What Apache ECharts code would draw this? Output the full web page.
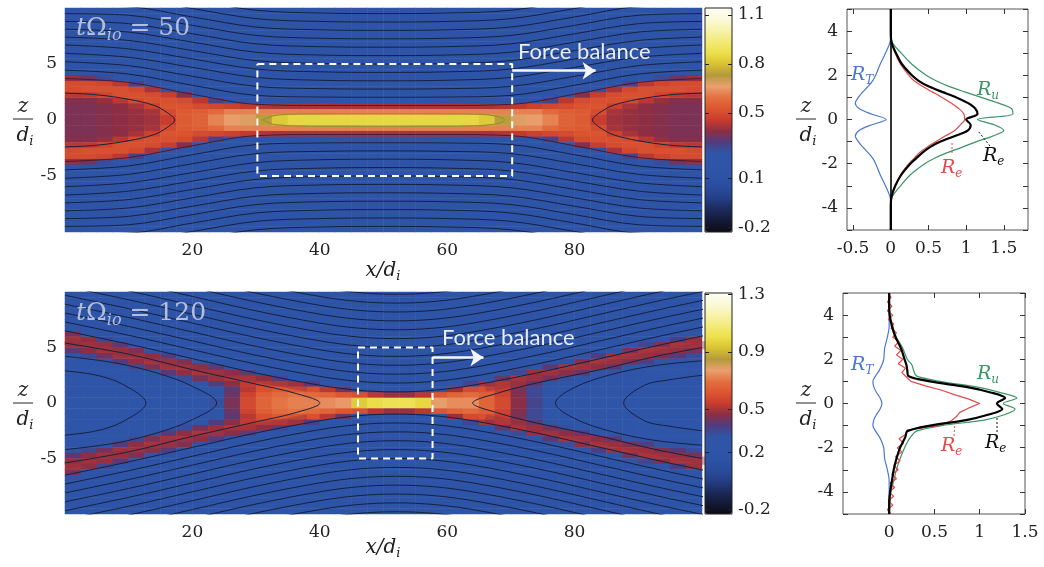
<!DOCTYPE html>
<html>
<head>
<meta charset="utf-8">
<script src="https://cdn.jsdelivr.net/npm/echarts@6/dist/echarts.min.js"></script>
<style>
  html, body { margin: 0; padding: 0; background: #fff; }
  #chart { width: 1044px; height: 567px; }
</style>
</head>
<body>
<div id="chart"></div>
<script>
// ---------- values ----------

// heatmap cell centres (x in d_i, z in d_i, upper half only; lower half is the mirror)
const cellX = [1.25, 3.75, 6.25, 8.75, 11.25, 13.75, 16.25, 18.75, 21.25, 23.75,
  26.25, 28.75, 31.25, 33.75, 36.25, 38.75, 41.25, 43.75, 46.25, 48.75,
  51.25, 53.75, 56.25, 58.75, 61.25, 63.75, 66.25, 68.75, 71.25, 73.75,
  76.25, 78.75, 81.25, 83.75, 86.25, 88.75, 91.25, 93.75, 96.25, 98.75];
const cellZ = [0.25, 0.75, 1.25, 1.75, 2.25, 2.75, 3.25, 3.75, 4.25, 4.75,
  5.25, 5.75, 6.25, 6.75, 7.25, 7.75, 8.25, 8.75, 9.25, 9.75];

// t = 50: vertical profiles (z = 0.25, 0.75, ...) for x < 50, mirrored about x = 50
const sheet50 = [
  [0.37, 0.37, 0.37, 0.38, 0.44, 0.50, 0.50, 0.40],
  [0.37, 0.37, 0.37, 0.38, 0.45, 0.51, 0.50, 0.36],
  [0.38, 0.38, 0.38, 0.40, 0.48, 0.51, 0.48, 0.28],
  [0.39, 0.39, 0.39, 0.44, 0.51, 0.51, 0.44, 0.20],
  [0.40, 0.40, 0.42, 0.50, 0.51, 0.49, 0.30],
  [0.41, 0.42, 0.47, 0.51, 0.50, 0.42, 0.18],
  [0.46, 0.50, 0.52, 0.51, 0.46, 0.26],
  [0.54, 0.54, 0.52, 0.50, 0.38, 0.17],
  [0.56, 0.55, 0.50, 0.44, 0.20],
  [0.62, 0.58, 0.49, 0.30],
  [0.66, 0.62, 0.47, 0.18],
  [0.68, 0.62, 0.45],
  [0.74, 0.62, 0.43],
  [0.82, 0.62, 0.42],
  [0.85, 0.62, 0.42],
  [0.85, 0.62, 0.42],
  [0.85, 0.62, 0.42],
  [0.85, 0.62, 0.42],
  [0.85, 0.62, 0.42],
  [0.85, 0.62, 0.42]
];
const background50 = 0.15;

// t = 120: vertical profiles for every x column
const sheet120 = [
  [0.22, 0.22, 0.22, 0.22, 0.22, 0.22, 0.22, 0.24, 0.30, 0.40, 0.48, 0.50, 0.44],
  [0.22, 0.22, 0.22, 0.22, 0.22, 0.22, 0.22, 0.26, 0.35, 0.46, 0.50, 0.47, 0.30],
  [0.22, 0.22, 0.22, 0.22, 0.22, 0.22, 0.24, 0.31, 0.43, 0.50, 0.48, 0.35],
  [0.22, 0.22, 0.22, 0.22, 0.22, 0.22, 0.28, 0.39, 0.49, 0.49, 0.40, 0.24],
  [0.22, 0.22, 0.22, 0.22, 0.22, 0.24, 0.35, 0.47, 0.50, 0.44, 0.26],
  [0.22, 0.22, 0.22, 0.22, 0.22, 0.29, 0.44, 0.50, 0.47, 0.30],
  [0.22, 0.22, 0.22, 0.22, 0.26, 0.39, 0.49, 0.49, 0.38],
  [0.22, 0.22, 0.22, 0.24, 0.33, 0.47, 0.50, 0.44, 0.26],
  [0.25, 0.24, 0.24, 0.30, 0.43, 0.50, 0.47, 0.30],
  [0.32, 0.31, 0.30, 0.38, 0.48, 0.50, 0.38, 0.24],
  [0.44, 0.42, 0.40, 0.46, 0.51, 0.46, 0.28],
  [0.58, 0.56, 0.52, 0.53, 0.52, 0.37, 0.23],
  [0.66, 0.64, 0.60, 0.56, 0.47, 0.26],
  [0.70, 0.68, 0.63, 0.54, 0.36],
  [0.72, 0.70, 0.62, 0.50, 0.26],
  [0.72, 0.68, 0.60, 0.38],
  [0.74, 0.66, 0.52, 0.26],
  [0.76, 0.62, 0.42],
  [0.95, 0.60, 0.30],
  [1.00, 0.52, 0.24],
  [1.02, 0.48],
  [1.02, 0.48],
  [0.98, 0.52, 0.24],
  [0.78, 0.62, 0.30],
  [0.74, 0.66, 0.48, 0.24],
  [0.74, 0.68, 0.58, 0.36],
  [0.66, 0.64, 0.60, 0.50, 0.26],
  [0.58, 0.56, 0.54, 0.54, 0.42, 0.23],
  [0.46, 0.45, 0.44, 0.49, 0.52, 0.34],
  [0.36, 0.35, 0.34, 0.40, 0.49, 0.48, 0.26],
  [0.28, 0.27, 0.27, 0.30, 0.42, 0.50, 0.40],
  [0.23, 0.23, 0.23, 0.24, 0.32, 0.46, 0.50, 0.32],
  [0.22, 0.22, 0.22, 0.22, 0.26, 0.39, 0.50, 0.46, 0.24],
  [0.22, 0.22, 0.22, 0.22, 0.22, 0.31, 0.46, 0.50, 0.38],
  [0.22, 0.22, 0.22, 0.22, 0.22, 0.26, 0.39, 0.49, 0.49, 0.30],
  [0.22, 0.22, 0.22, 0.22, 0.22, 0.22, 0.31, 0.44, 0.50, 0.44, 0.24],
  [0.22, 0.22, 0.22, 0.22, 0.22, 0.22, 0.26, 0.37, 0.49, 0.50, 0.36],
  [0.22, 0.22, 0.22, 0.22, 0.22, 0.22, 0.23, 0.31, 0.44, 0.50, 0.46, 0.26],
  [0.22, 0.22, 0.22, 0.22, 0.22, 0.22, 0.22, 0.27, 0.39, 0.48, 0.50, 0.38],
  [0.22, 0.22, 0.22, 0.22, 0.22, 0.22, 0.22, 0.24, 0.33, 0.44, 0.50, 0.48, 0.30]
];
const background120 = 0.21;

// field lines, t = 50: z at x = 0..50 (mirrored about x = 50 and z = 0)
const fieldX50 = [0, 10, 20, 30, 40, 50];
const fieldLines50 = [
  [3.7, 3.35, 2.3, 1.4, 1.3, 1.3],
  [4.45, 4.1, 3.1, 2.2, 2.05, 2.03],
  [5.2, 4.85, 3.9, 3.0, 2.8, 2.76],
  [5.95, 5.6, 4.7, 3.8, 3.55, 3.5],
  [6.7, 6.35, 5.45, 4.55, 4.3, 4.25],
  [7.4, 7.1, 6.2, 5.3, 5.05, 5.0],
  [8.1, 7.85, 6.95, 6.05, 5.8, 5.75],
  [8.8, 8.6, 7.7, 6.8, 6.55, 6.5],
  [9.5, 9.35, 8.45, 7.55, 7.3, 7.25],
  [10.2, 10.1, 9.2, 8.3, 8.05, 8.0],
  [10.9, 10.85, 9.95, 9.05, 8.8, 8.75],
  [11.6, 11.6, 10.7, 9.8, 9.55, 9.5]
];
const island50 = [[0, 2.4], [5, 2.25], [10, 1.85], [14, 1.3], [16.2, 0.6], [17.2, 0]];
const core50 = [[31, 0], [33, 0.42], [38, 0.55], [50, 0.58], [62, 0.55], [67, 0.42], [69, 0]];

// field lines, t = 120: z at distance d from the X point (mirrored left/right and in z)
const xPoint120 = 52;
const fieldD120 = [0, 6, 12, 22, 32, 42, 52];
const fieldLines120 = [
  [1.0, 1.15, 1.6, 2.7, 4.0, 5.3, 6.5],
  [1.8, 1.95, 2.4, 3.5, 4.8, 6.1, 7.3],
  [2.6, 2.75, 3.2, 4.3, 5.6, 6.9, 8.1],
  [3.4, 3.55, 4.0, 5.1, 6.4, 7.7, 8.9],
  [4.2, 4.35, 4.8, 5.9, 7.2, 8.5, 9.7],
  [5.0, 5.15, 5.6, 6.7, 8.0, 9.3, 10.5],
  [5.8, 5.95, 6.4, 7.5, 8.8, 10.1, 11.3],
  [6.6, 6.75, 7.2, 8.3, 9.6, 10.9, 12.1],
  [7.4, 7.55, 8.0, 9.1, 10.4, 11.7, 12.9],
  [8.2, 8.35, 8.8, 9.9, 11.2, 12.5, 13.7],
  [9.0, 9.15, 9.6, 10.7, 12.0, 13.3, 14.5],
  [9.8, 9.95, 10.4, 11.5, 12.8, 14.1, 15.3]
];
// centre of the dark red separatrix band, away from the X point
const sepD120 = [14, 22, 32, 42, 52];
const separatrix120 = [1.4, 2.2, 3.3, 4.5, 5.6];
const islands120 = [
  [[0, 5.4], [10, 4.4], [20, 3.0], [30, 1.7], [36, 0.9], [40, 0]],
  [[0, 4.2], [8, 3.6], [15, 2.6], [20, 1.5], [23.8, 0]],
  [[0, 2.9], [5, 2.5], [9, 1.7], [12.7, 0]],
  [[100, 5.0], [92, 4.1], [84, 3.0], [74, 1.8], [68, 0.9], [64, 0]],
  [[100, 3.8], [93, 3.4], [86, 2.6], [80, 1.4], [77, 0]],
  [[100, 2.5], [95, 2.1], [91, 1.6], [87.7, 0]]
];

// dashed "force balance" boxes and arrows
const boxX50 = [30.2, 70.2], boxZ50 = [-5, 5];
const arrowX50 = [70.2, 83.3], arrowZ50 = 4.4;
const boxX120 = [46, 57.7], boxZ120 = [-5, 5];
const arrowX120 = [57.7, 65.7], arrowZ120 = 4.1;

// colour bars
const range50 = [-0.228, 1.143];
const ticks50 = [-0.2, 0.1, 0.5, 0.8, 1.1];
const range120 = [-0.23, 1.31];
const ticks120 = [-0.2, 0.2, 0.5, 0.9, 1.3];

// right-hand profiles
const zProfile = [-5, -4.5, -4, -3.5, -3, -2.5, -2, -1.75, -1.5, -1.25, -1, -0.75, -0.5, -0.25, 0,
  0.25, 0.5, 0.75, 1, 1.25, 1.5, 1.75, 2, 2.5, 3, 3.5, 4, 4.5, 5];
const RT50 = [0, 0, 0, -0.01, -0.07, -0.14, -0.2, -0.24, -0.3, -0.37, -0.43, -0.47, -0.42, -0.26, -0.06,
  -0.26, -0.42, -0.47, -0.43, -0.37, -0.3, -0.24, -0.2, -0.14, -0.07, -0.01, 0, 0, 0];
const RU50 = [0, 0, 0, 0.02, 0.13, 0.26, 0.45, 0.58, 0.75, 0.95, 1.14, 1.35, 1.5, 1.38, 1.15,
  1.62, 1.6, 1.42, 1.2, 0.98, 0.77, 0.6, 0.47, 0.28, 0.14, 0.02, 0, 0, 0];
const RE50 = [0, 0, 0, 0.01, 0.06, 0.14, 0.26, 0.34, 0.42, 0.52, 0.66, 0.85, 1.02, 1.06, 1.0,
  1.15, 1.12, 1.02, 0.87, 0.68, 0.5, 0.37, 0.28, 0.15, 0.07, 0.01, 0, 0, 0];
const REi50 = [0, 0, 0, 0.01, 0.06, 0.13, 0.24, 0.31, 0.38, 0.48, 0.6, 0.72, 0.85, 0.92, 0.98,
  0.97, 0.9, 0.8, 0.68, 0.55, 0.42, 0.31, 0.24, 0.13, 0.06, 0.01, 0, 0, 0];

const RT120 = [0, 0, 0, 0, -0.02, -0.05, -0.06, -0.08, -0.11, -0.15, -0.18, -0.17, -0.14, -0.1, -0.08,
  -0.1, -0.14, -0.17, -0.18, -0.15, -0.11, -0.08, -0.06, -0.05, -0.02, 0, 0, 0, 0];
const RU120 = [0, 0.01, 0.02, 0.05, 0.08, 0.12, 0.17, 0.2, 0.24, 0.3, 0.58, 1.05, 1.28, 1.39, 1.26,
  1.41, 1.22, 0.96, 0.56, 0.3, 0.27, 0.25, 0.2, 0.15, 0.08, 0.04, 0.01, 0, 0];
const RE120 = [0, 0, 0.01, 0.03, 0.05, 0.08, 0.12, 0.15, 0.18, 0.2, 0.45, 0.85, 1.1, 1.25, 1.19,
  1.28, 1.12, 0.85, 0.45, 0.21, 0.2, 0.19, 0.17, 0.13, 0.07, 0.03, 0.005, 0, 0];
const zNoisy = [-5, -4.8, -4.6, -4.4, -4.2, -4, -3.8, -3.6, -3.4, -3.2, -3, -2.8, -2.6, -2.4, -2.2, -2,
  -1.8, -1.6, -1.4, -1.2, -1, -0.8, -0.6, -0.4, -0.2, 0, 0.2, 0.4, 0.6, 0.8, 1, 1.2, 1.4, 1.6, 1.8,
  2, 2.2, 2.4, 2.6, 2.8, 3, 3.2, 3.4, 3.6, 3.8, 4, 4.2, 4.4, 4.6, 4.8, 5];
const REi120 = [0.02, -0.02, 0.04, -0.01, 0.05, 0, 0.06, 0.01, 0.08, 0.03, 0.1, 0.05, 0.12, 0.07, 0.14, 0.09,
  0.16, 0.11, 0.18, 0.2, 0.55, 0.68, 0.74, 0.78, 0.88, 1.0, 0.88, 0.72, 0.58, 0.4, 0.24, 0.19, 0.14, 0.18, 0.1,
  0.15, 0.08, 0.13, 0.06, 0.11, 0.04, 0.08, 0.02, 0.05, -0.01, 0.04, -0.02, 0.03, -0.02, 0.02, -0.01];

// ---------- styling ----------
const serif = 'DejaVu Serif';
const palette = ['#0c0c14', '#141a36', '#1c2a5c', '#243e86', '#2a4c9c', '#2d53a5', '#2e55a8', '#2f55a6',
  '#503c80', '#8c2e44', '#c83c2e', '#dc5630', '#e27040', '#eaa070', '#b49a3c', '#d8c232', '#ece04a',
  '#f2ea78', '#f7f3ac', '#faf9d8', '#fdfdf6'];
const fieldColor = '#16213f';

const zCats = cellZ.slice().reverse().map(z => -z).concat(cellZ);

function buildCells(columns, bg, mirrorX) {
  const cells = [];
  for (let i = 0; i < cellX.length; i++) {
    const col = mirrorX ? columns[i < 20 ? i : 39 - i] : columns[i];
    for (let j = 0; j < cellZ.length; j++) {
      const v = j < col.length ? col[j] : bg;
      cells.push([i, 20 + j, v]);
      cells.push([i, 19 - j, v]);
    }
  }
  return cells;
}

function line(xi, yi, pts, color, width, extra) {
  return Object.assign({
    type: 'line', xAxisIndex: xi, yAxisIndex: yi, data: pts,
    symbol: 'none', showSymbol: false, smooth: 0.35, silent: true,
    lineStyle: { color: color, width: width }, z: 3
  }, extra || {});
}

function closeLoop(upper) {
  return upper.concat(upper.slice(0, -1).reverse().map(([x, z]) => [x, -z]));
}

// a curve given at distances d from the X point, made symmetric left/right
function aroundX(d, z) {
  const left = d.map((di, i) => [xPoint120 - di, z[i]]).reverse();
  const right = d.slice(1).map((di, i) => [xPoint120 + di, z[i + 1]]);
  return left.concat(right);
}

const series = [
  { type: 'heatmap', xAxisIndex: 0, yAxisIndex: 0, data: buildCells(sheet50, background50, true),
    emphasis: { disabled: true }, silent: true, progressive: 0 },
  { type: 'heatmap', xAxisIndex: 2, yAxisIndex: 2, data: buildCells(sheet120, background120, false),
    emphasis: { disabled: true }, silent: true, progressive: 0 }
];

// t = 50 field lines
fieldLines50.forEach((L, k) => {
  const left = fieldX50.map((x, i) => [x, L[i]]);
  const upper = left.concat(left.slice(0, -1).reverse().map(([x, z]) => [100 - x, z]));
  const col = k === 0 ? '#4a1a2c' : fieldColor;
  series.push(line(1, 1, upper, col, 1));
  series.push(line(1, 1, upper.map(([x, z]) => [x, -z]), col, 1));
});
series.push(line(1, 1, closeLoop(island50), fieldColor, 1));
series.push(line(1, 1, closeLoop(island50.map(([x, z]) => [100 - x, z])), fieldColor, 1));
series.push(line(1, 1, closeLoop(core50), '#9c9030', 1.2));

// t = 120: soft separatrix band (four arms), then field lines
const sepStyle = { z: 2, lineStyle: { color: '#8e2e46', width: 8, opacity: 0.4, cap: 'butt' } };
[-1, 1].forEach(side => [1, -1].forEach(s => {
  const arm = sepD120.map((d, i) => [xPoint120 + side * d, s * separatrix120[i]]);
  series.push(line(3, 3, arm, '#8e2e46', 8, sepStyle));
}));
fieldLines120.forEach(L => {
  const upper = aroundX(fieldD120, L);
  series.push(line(3, 3, upper, fieldColor, 1));
  series.push(line(3, 3, upper.map(([x, z]) => [x, -z]), fieldColor, 1));
});
islands120.forEach(c => series.push(line(3, 3, closeLoop(c), fieldColor, 1)));

// boxes + arrows
function box(xi, yi, bx, bz, ax, az) {
  return line(xi, yi, [[bx[0], bz[1]], [bx[1], bz[1]], [bx[1], bz[0]], [bx[0], bz[0]], [bx[0], bz[1]]],
    '#ffffff', 2, {
      smooth: false, z: 5,
      lineStyle: { color: '#ffffff', width: 2, type: [7, 5] },
      markLine: {
        silent: true, symbol: ['none', 'arrow'], symbolSize: 13, animation: false,
        label: { show: false },
        lineStyle: { color: '#f4f6fb', width: 2.5, type: 'solid' },
        data: [[{ coord: [ax[0], az] }, { coord: [ax[1], az] }]]
      }
    });
}
series.push(box(1, 1, boxX50, boxZ50, arrowX50, arrowZ50));
series.push(box(3, 3, boxX120, boxZ120, arrowX120, arrowZ120));

// profiles
const zip = (vals, zs) => zs.map((z, i) => [vals[i], z]);
const cBlue = '#4a78d0', cGreen = '#3d9466', cRed = '#e24a4a';
series.push(line(6, 8, zip(RT50, zProfile), cBlue, 1.2, { smooth: 0.3 }));
series.push(line(6, 8, zip(RU50, zProfile), cGreen, 1.2, { smooth: 0.3 }));
series.push(line(6, 8, zip(REi50, zProfile), cRed, 1.2, { smooth: 0.3 }));
series.push(line(6, 8, zip(RE50, zProfile), '#000', 2.2, {
  smooth: 0.3,
  markLine: { silent: true, symbol: 'none', label: { show: false }, animation: false,
    lineStyle: { color: '#000', width: 1.6, type: 'solid' }, data: [{ xAxis: 0 }] }
}));
series.push(line(8, 10, zip(RT120, zProfile), cBlue, 1.2, { smooth: 0.3 }));
series.push(line(8, 10, zip(RU120, zProfile), cGreen, 1.2, { smooth: 0.3 }));
series.push(line(8, 10, zip(REi120, zNoisy), cRed, 1.2, { smooth: false }));
series.push(line(8, 10, zip(RE120, zProfile), '#000', 2.2, { smooth: 0.3 }));

// ---------- axes ----------
const tickFont = { fontFamily: serif, fontSize: 17, color: '#222' };
const hidden = (grid, type, data) => ({ gridIndex: grid, type: type, data: data, show: false });
function valAxis(grid, min, max, extra) {
  return Object.assign({
    gridIndex: grid, type: 'value', min: min, max: max,
    axisLine: { show: false, onZero: false }, splitLine: { show: false },
    axisTick: { show: false }, axisLabel: { show: false }
  }, extra || {});
}
const profTick = vals => ({ show: true, inside: true, length: 5, lineStyle: { color: '#333' }, customValues: vals });

const xAxis = [
  hidden(0, 'category', cellX),
  valAxis(1, 0, 100, { axisLabel: Object.assign({ show: true, margin: 10, customValues: [20, 40, 60, 80] }, tickFont) }),
  hidden(2, 'category', cellX),
  valAxis(3, 0, 100, { axisLabel: Object.assign({ show: true, margin: 10, customValues: [20, 40, 60, 80] }, tickFont) }),
  valAxis(4, 0, 1, { show: false }),
  valAxis(5, 0, 1, { show: false }),
  valAxis(6, -0.58, 1.82, { position: 'bottom', axisTick: profTick([-0.5, 0, 0.5, 1, 1.5]),
    axisLabel: Object.assign({ show: true, margin: 10, customValues: [-0.5, 0, 0.5, 1, 1.5] }, tickFont) }),
  valAxis(6, -0.58, 1.82, { position: 'top', axisTick: profTick([-0.5, 0, 0.5, 1, 1.5]) }),
  valAxis(7, -0.51, 1.5, { position: 'bottom', axisTick: profTick([0, 0.5, 1, 1.5]),
    axisLabel: Object.assign({ show: true, margin: 10, customValues: [0, 0.5, 1, 1.5] }, tickFont) }),
  valAxis(7, -0.51, 1.5, { position: 'top', axisTick: profTick([0, 0.5, 1, 1.5]) })
];

function barAxis(grid, range, ticks, pos, labels) {
  return valAxis(grid, range[0], range[1], {
    position: pos, z: 10,
    axisTick: { show: true, inside: true, length: 4, lineStyle: { color: '#222' }, customValues: ticks },
    axisLabel: labels ? Object.assign({ show: true, margin: 6, customValues: ticks }, tickFont) : { show: false }
  });
}
function profAxis(grid, pos, labels) {
  return valAxis(grid, -5, 5, {
    position: pos, interval: 1,
    axisTick: { show: true, inside: true, length: 5, lineStyle: { color: '#333' } },
    axisLabel: labels ? Object.assign({ show: true, margin: 9, customValues: [-4, -2, 0, 2, 4] }, tickFont) : { show: false }
  });
}

const yAxis = [
  hidden(0, 'category', zCats),
  valAxis(1, -10, 10, { axisLabel: Object.assign({ show: true, margin: 8, customValues: [-5, 0, 5] }, tickFont) }),
  hidden(2, 'category', zCats),
  valAxis(3, -10, 10, { axisLabel: Object.assign({ show: true, margin: 8, customValues: [-5, 0, 5] }, tickFont) }),
  barAxis(4, range50, ticks50, 'right', true),
  barAxis(4, range50, ticks50, 'left', false),
  barAxis(5, range120, ticks120, 'right', true),
  barAxis(5, range120, ticks120, 'left', false),
  profAxis(6, 'left', true),
  profAxis(6, 'right', false),
  profAxis(7, 'left', true),
  profAxis(7, 'right', false)
];

// ---------- annotations ----------
const ital = (size, color) => ({ fontFamily: serif, fontStyle: 'italic', fontSize: size, fill: color });
function mathLabel(x, y, text, size, color, align) {
  return {
    type: 'text', x: x, y: y, z: 100, silent: true,
    style: {
      text: text, align: align || 'left', verticalAlign: 'middle',
      rich: {
        i: Object.assign(ital(size, color), { lineHeight: size + 4 }),
        u: { fontFamily: serif, fontSize: size, fill: color, lineHeight: size + 4 },
        s: Object.assign(ital(Math.round(size * 0.65), color), { lineHeight: size + 4, padding: [Math.round(size * 0.6), 0, 0, 0] })
      }
    }
  };
}
function fraction(cx, cy) {
  return [
    mathLabel(cx, cy - 12, '{i|z}', 20, '#222', 'center'),
    { type: 'line', z: 100, silent: true, shape: { x1: cx - 10, y1: cy, x2: cx + 10, y2: cy }, style: { stroke: '#222', lineWidth: 1 } },
    mathLabel(cx + 2, cy + 17, '{i|d}{s|i}', 20, '#222', 'center')
  ];
}
const dash = (x1, y1, x2, y2, c) => ({ type: 'line', z: 100, silent: true,
  shape: { x1: x1, y1: y1, x2: x2, y2: y2 }, style: { stroke: c, lineWidth: 1, lineDash: [2, 2] } });
const forceText = (x, y) => ({ type: 'text', x: x, y: y, z: 100, silent: true,
  style: { text: 'Force balance', fontFamily: 'Lato', fontSize: 22, fill: '#e8ecf5', verticalAlign: 'middle' } });

const graphic = [
  mathLabel(76, 28, '{i|t}{u|Ω}{s|io}{u| = 50}', 25, '#b3bfd9'),
  mathLabel(76, 313, '{i|t}{u|Ω}{s|io}{u| = 120}', 25, '#b3bfd9'),
  forceText(518, 52),
  forceText(442, 338),
  mathLabel(383, 271, '{i|x/d}{s|i}', 20, '#222', 'center'),
  mathLabel(383, 548, '{i|x/d}{s|i}', 20, '#222', 'center'),
  ...fraction(23, 119),
  ...fraction(23, 403),
  ...fraction(806, 119),
  ...fraction(806, 403),
  { type: 'rect', z: 100, silent: true, shape: { x: 705, y: 8, width: 27, height: 224 }, style: { fill: 'none', stroke: '#222', lineWidth: 1 } },
  { type: 'rect', z: 100, silent: true, shape: { x: 705, y: 293, width: 27, height: 221 }, style: { fill: 'none', stroke: '#222', lineWidth: 1 } },
  mathLabel(851, 75, '{i|R}{s|T}', 19, cBlue),
  mathLabel(977, 90, '{i|R}{s|u}', 19, cGreen),
  mathLabel(983, 156, '{i|R}{s|e}', 19, '#111'),
  mathLabel(941, 168, '{i|R}{s|e}', 19, cRed),
  dash(990, 146, 978, 131, '#111'),
  dash(952, 153, 952, 141, cRed),
  mathLabel(851, 365, '{i|R}{s|T}', 19, cBlue),
  mathLabel(977, 374, '{i|R}{s|u}', 19, cGreen),
  mathLabel(985, 443, '{i|R}{s|e}', 19, '#111'),
  mathLabel(941, 446, '{i|R}{s|e}', 19, cRed),
  dash(997, 432, 997, 417, '#111'),
  dash(954, 436, 955, 423, cRed)
];

const option = {
  backgroundColor: '#ffffff',
  animation: false,
  textStyle: { fontFamily: serif },
  grid: [
    { left: 65, top: 8, width: 637, height: 224 },
    { left: 65, top: 8, width: 637, height: 224 },
    { left: 65, top: 292, width: 637, height: 222 },
    { left: 65, top: 292, width: 637, height: 222 },
    { left: 705, top: 8, width: 27, height: 224 },
    { left: 705, top: 293, width: 27, height: 221 },
    { left: 847, top: 9, width: 181, height: 221, show: true, borderColor: '#555', borderWidth: 1, backgroundColor: '#fff' },
    { left: 843, top: 293, width: 182, height: 221, show: true, borderColor: '#555', borderWidth: 1, backgroundColor: '#fff' }
  ],
  xAxis: xAxis,
  yAxis: yAxis,
  visualMap: [
    { type: 'continuous', seriesIndex: 0, min: range50[0], max: range50[1], inRange: { color: palette },
      left: 705, top: 8, itemWidth: 27, itemHeight: 224, padding: 0, calculable: false, hoverLink: false, realtime: false },
    { type: 'continuous', seriesIndex: 1, min: range120[0], max: range120[1], inRange: { color: palette },
      left: 705, top: 293, itemWidth: 27, itemHeight: 221, padding: 0, calculable: false, hoverLink: false, realtime: false }
  ],
  graphic: graphic,
  series: series
};

const chart = echarts.init(document.getElementById('chart'));
chart.setOption(option);
</script>
</body>
</html>
